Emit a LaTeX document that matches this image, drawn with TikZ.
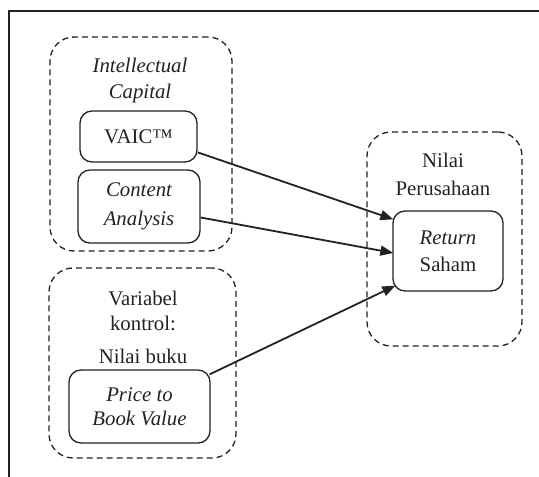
\documentclass[tikz,border=0pt]{standalone}
\usepackage{fontspec}
\setmainfont{Liberation Serif}
\usetikzlibrary{arrows.meta,calc}
\definecolor{ink}{HTML}{222222}
\begin{document}
\begin{tikzpicture}[x=1pt,y=1pt,
  grp/.style={draw=ink,line width=1.3pt,dash pattern=on 6pt off 4pt,rounded corners=24pt,inner sep=0pt},
  box/.style={draw=ink,line width=1.3pt,rounded corners=12pt,inner sep=0pt,align=center,text=ink},
  lbl/.style={align=center,text=ink,inner sep=0pt},
  conn/.style={draw=ink,line width=1.8pt,-{Triangle[length=13pt,width=10pt]}},
  fnt/.style={font=\fontsize{20.8}{#1}\selectfont}]
\useasboundingbox (0,0) rectangle (539,477);
\draw[ink,line width=1.5pt] (9,0) -- (9,466) -- (539,466);
% groups
\node[grp,minimum width=182pt,minimum height=214pt] (g1) at (141,333) {};
\node[grp,minimum width=187pt,minimum height=190pt] (g2) at (142.5,114) {};
\node[grp,minimum width=155pt,minimum height=214pt] (g3) at (444.5,238) {};
% group labels
\node[lbl,fnt=26pt] (g1l) at (140,396) {\itshape Intellectual\\\itshape Capital};
\node[lbl,fnt=25pt] (g2la) at (143,166) {Variabel\\kontrol:};
\node[lbl,fnt=25pt] (g2lb) at (143,121) {Nilai buku};
\node[lbl,fnt=28pt] (g3l) at (443,303) {Nilai\\Perusahaan};
% boxes
\node[box,fnt=27pt,minimum width=117pt,minimum height=51pt] (vaic) at (138.5,340.5) {VAIC™};
\node[box,fnt=29pt,minimum width=122pt,minimum height=73pt] (ca) at (139,270.5) {\itshape Content\\\itshape Analysis};
\node[box,fnt=24pt,minimum width=141pt,minimum height=73pt] (pbv) at (139.5,70.5) {\itshape Price to\\\itshape Book Value};
\node[box,fnt=27pt,minimum width=110pt,minimum height=80pt] (ret) at (448,226) {\itshape Return\\Saham};
% connectors
\draw[conn] (vaic.-15) -- ($(ret.north west)+(1,-9)$);
\draw[conn] ($(ca.east)+(0,-11)$) -- ($(ret.west)+(1,-2)$);
\draw[conn] ($(pbv.north east)+(-1,-5)$) -- ($(ret.south west)+(3,6)$);
\end{tikzpicture}
\end{document}
